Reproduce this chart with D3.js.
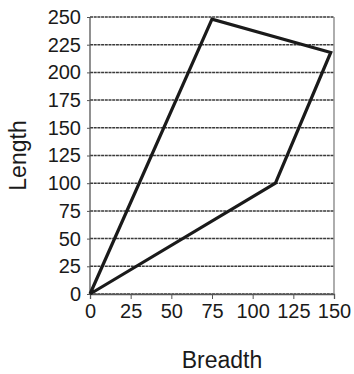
<!DOCTYPE html>
<html><head><meta charset="utf-8">
<script src="https://cdn.jsdelivr.net/npm/d3@7"></script>
<style>body{margin:0;background:#fff}svg{display:block}text{font-family:"Liberation Sans",Arial,sans-serif;fill:#1a1a1a}</style>
</head><body>
<script>
const breadth = [0, 75, 148, 114, 0];
const length = [0, 248, 218, 100, 0];
const xTicks = [0, 25, 50, 75, 100, 125, 150];
const yTicks = [0, 25, 50, 75, 100, 125, 150, 175, 200, 225, 250];

const W = 354, H = 374;
const svg = d3.select("body").append("svg").attr("width", W).attr("height", H);
const x = d3.scaleLinear().domain([0, 150]).range([90, 334]);
const y = d3.scaleLinear().domain([0, 250]).range([294, 17]);

// gridlines
svg.append("g").selectAll("line").data(yTicks).join("line")
  .attr("x1", x(0)).attr("x2", x(150))
  .attr("y1", d => y(d)).attr("y2", d => y(d))
  .attr("stroke", "#3a3a3a").attr("stroke-width", 1.5).attr("stroke-dasharray", "3,0.7");

// frame left/right
svg.append("line").attr("x1", x(0)).attr("x2", x(0)).attr("y1", y(0)).attr("y2", y(250)).attr("stroke", "#555").attr("stroke-width", 1.3);
svg.append("line").attr("x1", x(150)).attr("x2", x(150)).attr("y1", y(0)).attr("y2", y(250)).attr("stroke", "#777").attr("stroke-width", 1.2);

const tickFont = 20;
// axes
const xAxis = svg.append("g").attr("transform", `translate(0,${y(0)})`)
  .call(d3.axisBottom(x).tickValues(xTicks).tickSize(5).tickPadding(5));
xAxis.select(".domain").attr("stroke", "#555").attr("stroke-width", 1.3);
xAxis.selectAll(".tick line").attr("stroke", "#555");
xAxis.selectAll("text").attr("font-size", tickFont).attr("fill", "#1a1a1a").attr("font-family", "Liberation Sans, Arial, sans-serif");

const yAxis = svg.append("g").attr("transform", `translate(${x(0)},0)`)
  .call(d3.axisLeft(y).tickValues(yTicks).tickSize(3).tickPadding(6));
yAxis.select(".domain").remove();
yAxis.selectAll(".tick line").attr("stroke", "#555");
yAxis.selectAll("text").attr("font-size", tickFont).attr("fill", "#1a1a1a").attr("font-family", "Liberation Sans, Arial, sans-serif");

// polygon line
const pts = breadth.map((b, i) => [b, length[i]]);
svg.append("path").datum(pts)
  .attr("d", d3.line().x(d => x(d[0])).y(d => y(d[1])))
  .attr("fill", "none").attr("stroke", "#1a1a1a").attr("stroke-width", 3.2).attr("stroke-linejoin", "miter");

// axis titles
svg.append("text").attr("x", 222).attr("y", 368).attr("text-anchor", "middle").attr("font-size", 23).text("Breadth");
svg.append("text").attr("transform", `translate(26,${y(125)}) rotate(-90)`).attr("text-anchor", "middle").attr("font-size", 23).text("Length");
</script>
</body></html>
